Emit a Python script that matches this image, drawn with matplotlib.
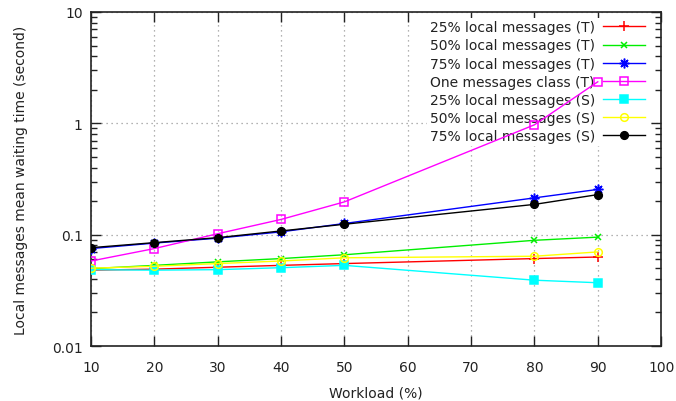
import matplotlib
matplotlib.use('Agg')
import matplotlib.pyplot as plt
from matplotlib.ticker import LogLocator, NullFormatter, FixedLocator

plt.rcParams.update({
    'font.family': 'DejaVu Sans',
    'font.size': 10,
    'text.color': '#222222',
    'axes.labelcolor': '#222222',
    'xtick.color': '#222222',
    'ytick.color': '#222222',
})

workload = [10, 20, 30, 40, 50, 80, 90]

t25 = [0.048, 0.049, 0.051, 0.053, 0.055, 0.061, 0.063]
t50 = [0.0495, 0.053, 0.057, 0.061, 0.066, 0.089, 0.095]
t75 = [0.075, 0.084, 0.093, 0.106, 0.126, 0.214, 0.255]
one_class = [0.058, 0.075, 0.102, 0.137, 0.197, 0.97, 2.36]
s25 = [0.0485, 0.048, 0.0485, 0.0505, 0.053, 0.039, 0.037]
s50 = [0.050, 0.052, 0.055, 0.058, 0.062, 0.064, 0.070]
s75 = [0.0764, 0.0848, 0.094, 0.108, 0.124, 0.187, 0.229]

series = [
    ('25% local messages (T)', t25, '#ff0000', dict(marker='+', markersize=7)),
    ('50% local messages (T)', t50, '#00ee00', dict(marker='x', markersize=5)),
    ('75% local messages (T)', t75, '#0000ff', dict(marker=(8, 2, 0), markersize=7)),
    ('One messages class (T)', one_class, '#ff00ff',
     dict(marker='s', markersize=5.5, markerfacecolor='none')),
    ('25% local messages (S)', s25, '#00ffff', dict(marker='s', markersize=5.5)),
    ('50% local messages (S)', s50, '#ffff00',
     dict(marker='o', markersize=5.5, markerfacecolor='none')),
    ('75% local messages (S)', s75, '#000000', dict(marker='o', markersize=5.5)),
]

fig = plt.figure(figsize=(6.76, 4.02), dpi=100)
ax = fig.add_axes([0.1346, 0.1368, 0.978 - 0.1346, 0.9677 - 0.1368])

for label, vals, color, style in series:
    ax.plot(workload, vals, color=color, lw=1, label=label,
            markeredgewidth=1.1, zorder=3, **style)

ax.set_yscale('log')
ax.set_xlim(10, 100)
ax.set_ylim(0.01, 10)
ax.xaxis.set_major_locator(FixedLocator(range(10, 101, 10)))
ax.yaxis.set_minor_locator(LogLocator(base=10, subs=range(2, 10)))
ax.yaxis.set_minor_formatter(NullFormatter())
ax.set_yticks([0.01, 0.1, 1, 10])
ax.set_yticklabels(['0.01', '0.1', '1', '10'])

ax.tick_params(which='both', direction='in', top=True, right=True, width=1)
ax.tick_params(which='major', length=7)
ax.tick_params(which='minor', length=4)
ax.tick_params(axis='x', pad=10)
ax.tick_params(axis='y', pad=6)

for sp in ax.spines.values():
    sp.set_linewidth(1.2)
    sp.set_color('#222222')

ax.set_axisbelow(True)
ax.grid(True, which='major', color='#999999', lw=0.9, ls=(0, (1, 3)))

ax.set_xlabel('Workload (%)', labelpad=8)
ax.set_ylabel('Local messages mean waiting time (second)', labelpad=17)

leg = ax.legend(loc='upper right', bbox_to_anchor=(0.986, 1.0),
                markerfirst=False, frameon=True,
                fancybox=False, borderpad=0.2, borderaxespad=0.4,
                labelspacing=0.3, handlelength=3.0, handletextpad=0.6,
                fontsize=10)
leg.get_frame().set_facecolor('white')
leg.get_frame().set_edgecolor('none')
leg.get_frame().set_alpha(1.0)
leg.set_zorder(2)

fig.savefig('out.png', dpi=100)
